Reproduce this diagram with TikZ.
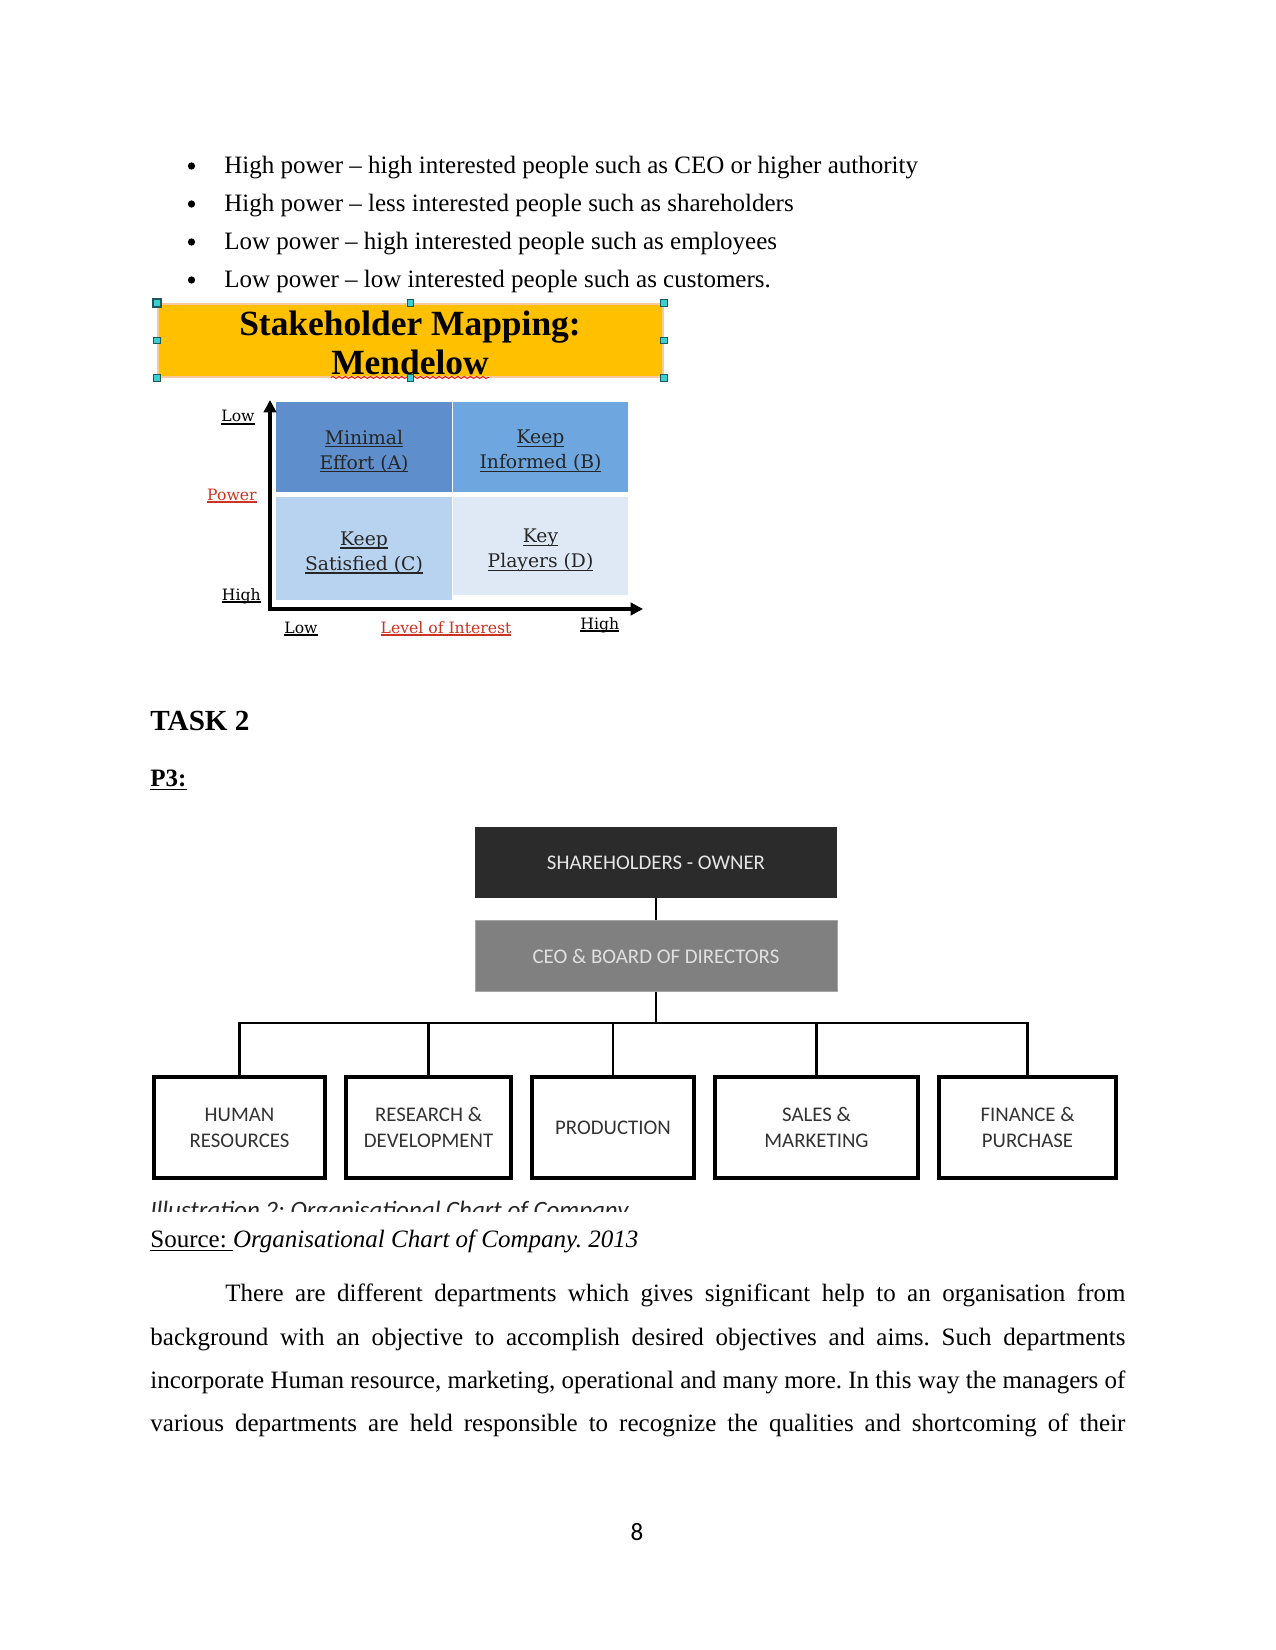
\documentclass[tikz,border=0pt]{standalone}
\usepackage{fontspec}
\setmainfont{Liberation Serif}
\newfontfamily\chartfont{Carlito}
\newfontfamily\gridfont{DejaVu Serif}
\usetikzlibrary{arrows.meta,positioning,decorations.pathmorphing}
\frenchspacing

\definecolor{gold}{HTML}{FFC000}
\definecolor{goldedge}{HTML}{F6C9A0}
\definecolor{handlefill}{HTML}{3CCFCF}
\definecolor{handleedge}{HTML}{1E5A5A}
\definecolor{quadA}{HTML}{5E8FCC}
\definecolor{quadB}{HTML}{6EA7DF}
\definecolor{quadC}{HTML}{B8D3EF}
\definecolor{quadD}{HTML}{DFE9F6}
\definecolor{axisred}{HTML}{CC3322}
\definecolor{ownerfill}{HTML}{2B2B2B}
\definecolor{ceofill}{HTML}{808080}
\definecolor{boxtext}{HTML}{333333}

% underline at a fixed depth
\newcommand{\ulword}[2][1.6pt]{\setbox0\hbox{#2}\rlap{\rule[-#1]{\wd0}{0.6pt}}\box0}

\begin{document}
\begin{tikzpicture}[
    x=0.48pt, y=-0.48pt,
    >=Stealth,
    every node/.style={inner sep=0pt},
    body/.style={font=\fontsize{12}{14}\selectfont},
    dot/.style={circle, fill, minimum size=3.5pt},
    titlebox/.style={fill=gold, draw=goldedge, line width=1pt, minimum width=505*0.48pt, minimum height=73*0.48pt},
    titletext/.style={font=\bfseries\fontsize{17}{19}\selectfont},
    handle/.style={draw=handleedge, fill=handlefill, line width=0.5pt, minimum size=3.2pt},
    quad/.style={minimum width=176*0.48pt},
    quadtext/.style={align=center, font=\gridfont\fontsize{9}{12}\selectfont, text=black!85},
    axislbl/.style={font=\gridfont\fontsize{7.5}{9}\selectfont},
    axisline/.style={line width=1.9pt, {Triangle[length=6pt,width=6pt]}-{Triangle[length=6pt,width=6pt]}},
    orgtop/.style={minimum width=362*0.48pt, minimum height=71*0.48pt, font=\chartfont\fontsize{10}{12}\selectfont},
    dept/.style={draw, line width=1.5pt, minimum height=101*0.48pt, align=center, text=boxtext, font=\chartfont\fontsize{10}{12.5}\selectfont},
    link/.style={line width=1.3pt}
]

\path[use as bounding box, fill=white] (0,0) rectangle (1275,1650);

% bullet list
\node[dot] (bull1) at (191.5,166) {};
\node[body, anchor=base west] (item1) at (224,174) {High power – high interested people such as CEO or higher authority};
\node[dot] (bull2) at (191.5,204) {};
\node[body, anchor=base west] (item2) at (224,212) {High power – less interested people such as shareholders};
\node[dot] (bull3) at (191.5,242) {};
\node[body, anchor=base west] (item3) at (224,250) {Low power – high interested people such as employees};
\node[dot] (bull4) at (191.5,280) {};
\node[body, anchor=base west] (item4) at (224,288) {Low power – low interested people such as customers.};

% title box with its handles
\node[titlebox] (mapbox) at (410.5,340.5) {};
\node[titletext, anchor=base] (title1) at (410,336) {Stakeholder Mapping:};
\node[titletext, anchor=base] (title2) at (410,375) {Mendelow};
\draw[red, line width=0.4pt, decorate, decoration={snake, amplitude=0.5pt, segment length=3pt}]
    ([yshift=-1.2pt]title2.base west) -- ([yshift=-1.2pt]title2.base east);
\foreach \a in {north,north east,east,south east,south,south west,west}
    \node[handle] (h-\a) at (mapbox.\a) {};
\node[handle, line width=0.9pt, minimum size=4.2pt] (h-north west) at (mapbox.north west) {};

% Mendelow grid
\node[quad, fill=quadA, minimum height=90*0.48pt] (minA) at (364,447) {};
\node[quad, fill=quadB, minimum width=175*0.48pt, minimum height=90*0.48pt] (infB) at (540.5,447) {};
\node[quad, fill=quadC, minimum height=103*0.48pt] (satC) at (364,548.5) {};
\node[quad, fill=quadD, minimum width=175*0.48pt, minimum height=98*0.48pt] (keyD) at (540.5,546) {};
\node[quadtext] (minAtext) at ([yshift=-2pt]minA.center) {\ulword{Minimal}\\\ulword{Effort (A)}};
\node[quadtext] (infBtext) at ([yshift=-2pt]infB.center) {\ulword{Keep}\\\ulword{Informed (B)}};
\node[quadtext] (satCtext) at ([yshift=-2pt]satC.center) {\ulword{Keep}\\\ulword{Satisfied (C)}};
\node[quadtext] (keyDtext) at ([yshift=-2pt]keyD.center) {\ulword{Key}\\\ulword{Players (D)}};

\coordinate (ytop) at (270,400);
\coordinate (orig) at (270,609);
\coordinate (xend) at (643,609);
\draw[axisline] (ytop) -- (orig) -- (xend);

\node[axislbl, anchor=base east] (lowY) at (255,422) {\ulword[1.2pt]{Low}};
\node[axislbl, anchor=base east, text=axisred] (power) at (257,500) {\ulword[1.2pt]{Power}};
\node[axislbl, anchor=base east] (highY) at (261,600) {\ulword[1.2pt]{High}};
\node[axislbl, anchor=base west] (lowX) at (284,633) {\ulword[1.2pt]{Low}};
\node[axislbl, anchor=base, text=axisred] (interest) at (446,633) {\ulword[1.2pt]{Level of Interest}};
\node[axislbl, anchor=base west] (highX) at (580,629) {\ulword[1.2pt]{High}};

% headings
\node[anchor=base west, font=\bfseries\fontsize{14}{16}\selectfont] (task) at (150,730) {TASK 2};
\node[anchor=base west, font=\bfseries\fontsize{12}{14}\selectfont] (pthree) at (150,786) {\ulword[2pt]{P3:}};

% organisation chart
\node[orgtop, fill=ownerfill, text=white!90!black] (owner) at (656,862.5) {SHAREHOLDERS - OWNER};
\node[orgtop, fill=ceofill, draw=black!35, text=white!88!black] (ceo) at (656,956) {CEO \& BOARD OF DIRECTORS};

\node[dept, minimum width=171*0.48pt] (hr) at (239.5,1127.5) {HUMAN\\RESOURCES};
\node[dept, minimum width=165*0.48pt] (rnd) at (428.5,1127.5) {RESEARCH \&\\DEVELOPMENT};
\node[dept, minimum width=162*0.48pt] (prod) at (613,1127.5) {PRODUCTION};
\node[dept, minimum width=203*0.48pt] (sales) at (816.5,1127.5) {SALES \&\\MARKETING};
\node[dept, minimum width=177*0.48pt] (fin) at (1027.5,1127.5) {FINANCE \&\\PURCHASE};

\coordinate (bus) at (0,1023);
\draw[link] (owner) -- (ceo);
\draw[link] (ceo.south) -- (ceo.south |- bus);
\draw[link] (hr.north) -- (hr.north |- bus) -- (fin.north |- bus) -- (fin.north);
\foreach \d in {rnd,prod,sales}
    \draw[link] (\d.north) -- (\d.north |- bus);

% caption, cut off
\begin{scope}
\clip (140,1180) rectangle (700,1211);
\node[anchor=base west, font=\chartfont\itshape\fontsize{12}{14}\selectfont, text=black!85] (caption) at (150,1218) {Illustration 2: Organisational Chart of Company};
\end{scope}
\node[body, anchor=base west] (source) at (150,1247) {\ulword[2pt]{Source:\ }\textit{Organisational Chart of Company. 2013}};

% paragraph
\node[body, anchor=base west] (par1) at (225,1301) {\makebox[432pt][s]{There are different departments which gives significant help to an organisation from}};
\node[body, anchor=base west] (par2) at (150,1345) {\makebox[468pt][s]{background with an objective to accomplish desired objectives and aims. Such departments}};
\node[body, anchor=base west] (par3) at (150,1388) {\makebox[468pt][s]{incorporate Human resource, marketing, operational and many more. In this way the managers of}};
\node[body, anchor=base west] (par4) at (150,1431) {\makebox[468pt][s]{various departments are held responsible to recognize the qualities and shortcoming of their}};

\node[anchor=base, font=\chartfont\fontsize{12}{14}\selectfont] (pagenum) at (637,1540) {8};

\end{tikzpicture}
\end{document}
